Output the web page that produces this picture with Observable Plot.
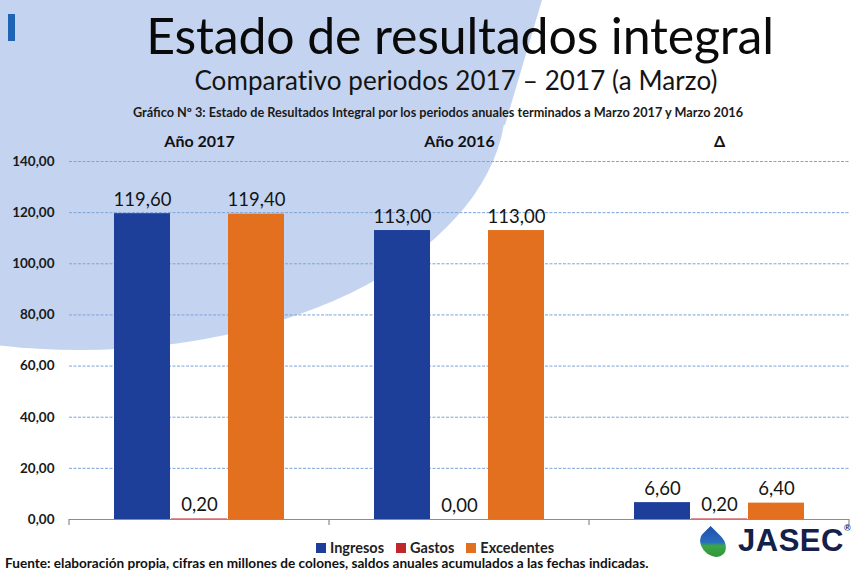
<!DOCTYPE html>
<html>
<head>
<meta charset="utf-8">
<script src="https://cdn.jsdelivr.net/npm/d3@7"></script>
<script src="https://cdn.jsdelivr.net/npm/@observablehq/plot@0.6"></script>
<style>
  html, body { margin: 0; padding: 0; background: #fff; }
  body { width: 856px; height: 572px; position: relative; overflow: hidden; font-family: Lato, "Open Sans", sans-serif; color: #111; }
  .bg1 { position: absolute; left: -346px; top: -150px; width: 852px; height: 500px; border-radius: 50%; background: #c4d4f0; }
  .bg2 { position: absolute; left: 0; top: 0; width: 856px; height: 200px; background: #c4d4f0; clip-path: polygon(0 0, 542px 0, 505px 125px, 0 125px); }
  .mark { position: absolute; left: 8px; top: 14px; width: 7px; height: 27px; background: #1f63b5; }
  .t1 { position: absolute; left: 0; width: 920px; top: 10px; text-align: center; font-size: 50px; line-height: 50px; color: #0a0a0a; letter-spacing: -0.15px; }
  .t2 { position: absolute; left: 0; width: 912px; top: 67px; text-align: center; font-size: 26px; line-height: 26px; color: #141414; letter-spacing: 0.1px; }
  .t3 { position: absolute; left: 0; width: 876px; top: 104px; text-align: center; font-size: 12.7px; font-weight: 700; color: #1a1a1a; }
  #chart { position: absolute; left: 0; top: 125px; }
  .legend { position: absolute; top: 541px; left: 316px; font-size: 14.5px; line-height: 14px; font-weight: 700; color: #222; display: flex; gap: 12px; }
  .legend span { display: inline-flex; align-items: center; }
  .legend i { display: inline-block; width: 10px; height: 10px; margin-right: 4px; }
  .foot { position: absolute; left: 5px; top: 556px; font-size: 13.6px; line-height: 15px; font-weight: 700; color: #111; }
  .logo { position: absolute; left: 700px; top: 521px; display: flex; align-items: center; }
  .leaf { width: 26px; height: 34px; border-radius: 50% 0 50% 50%; transform: rotate(-45deg) scale(0.85); background: linear-gradient(225deg, #1f4fa8 0%, #2a6cc0 45%, #3aa845 55%, #2e8b3a 100%); margin-right: 12px; margin-top: 6px; }
  .jasec { font-family: "Liberation Sans", Arial, sans-serif; font-weight: 700; font-size: 31px; color: #15204a; letter-spacing: 0.5px; }
</style>
</head>
<body>
<div class="bg1"></div>
<div class="bg2"></div>
<div class="mark"></div>
<div class="t1">Estado de resultados integral</div>
<div class="t2">Comparativo periodos 2017 – 2017 (a Marzo)</div>
<div class="t3">Gráfico Nº 3: Estado de Resultados Integral por los periodos anuales terminados a Marzo 2017 y Marzo 2016</div>
<div id="chart"></div>
<div class="legend"></div>
<div class="foot">Fuente: elaboración propia, cifras en millones de colones, saldos anuales acumulados a las fechas indicadas.</div>
<div class="logo"><div class="leaf"></div><div class="jasec">JASEC<sup style="font-size:9px;vertical-align:top;">®</sup></div></div>
<script>
const groups = ["Año 2017", "Año 2016", "Δ"];
const series = ["Ingresos", "Gastos", "Excedentes"];
const ingresos = [119.6, 113.0, 6.6];
const gastos = [0.2, 0.0, 0.2];
const excedentes = [119.4, 113.0, 6.4];
const yTicks = [0, 20, 40, 60, 80, 100, 120, 140];
const colors = ["#1d3f9a", "#c0272d", "#e2701f"];

const values = [ingresos, gastos, excedentes];
const data = [];
groups.forEach((g, gi) => series.forEach((s, si) => data.push({group: g, series: s, value: values[si][gi]})));
const fmt = v => v.toFixed(2).replace(".", ",");

const chart = Plot.plot({
  width: 856,
  height: 404,
  marginLeft: 68,
  marginRight: 6,
  marginTop: 36,
  marginBottom: 10,
  style: {background: "transparent", overflow: "visible", fontFamily: "Lato, 'Open Sans', sans-serif"},
  fx: {domain: groups, padding: 0, label: null},
  x: {domain: series, paddingInner: 0.02, paddingOuter: 0.78, axis: null},
  y: {domain: [0, 140], label: null},
  color: {domain: series, range: colors},
  marks: [
    Plot.gridY(yTicks.filter(d => d > 0), {stroke: "#7ea5d8", strokeOpacity: 1, strokeDasharray: "3,1.5", strokeWidth: 1}),
    Plot.axisY(yTicks, {tickSize: 0, tickPadding: 15, tickFormat: fmt, fontSize: 13.5, fontWeight: 700, fill: "#1a1a1a", label: null}),
    Plot.axisFx({anchor: "top", tickSize: 0, tickPadding: 15, fontSize: 16, fontWeight: 700, fill: "#111", label: null}),
    Plot.barY(data, {fx: "group", x: "series", y: "value", fill: "series"}),
    Plot.ruleY([0], {stroke: "#8c8c8c", strokeWidth: 1.2}),
    Plot.text(data, {fx: "group", x: "series", y: "value", text: d => fmt(d.value), lineAnchor: "bottom", dy: -8, fontSize: 18.5, fill: "#141414"})
  ]
});
document.getElementById("chart").appendChild(chart);

// boundary ticks under the baseline, at the facet band edges
const fx = chart.scale("fx");
const y = chart.scale("y");
const svg = d3.select(chart);
const edges = groups.map(g => fx.apply(g)).concat([fx.apply(groups[groups.length - 1]) + fx.bandwidth]);
svg.append("g").selectAll("line").data(edges).join("line")
  .attr("x1", d => d).attr("x2", d => d)
  .attr("y1", y.apply(0)).attr("y2", y.apply(0) + 6)
  .attr("stroke", "#8c8c8c").attr("stroke-width", 1.2);

const legend = document.querySelector(".legend");
series.forEach((s, i) => {
  const el = document.createElement("span");
  el.innerHTML = `<i style="background:${colors[i]}"></i>${s}`;
  legend.appendChild(el);
});
</script>
</body>
</html>
